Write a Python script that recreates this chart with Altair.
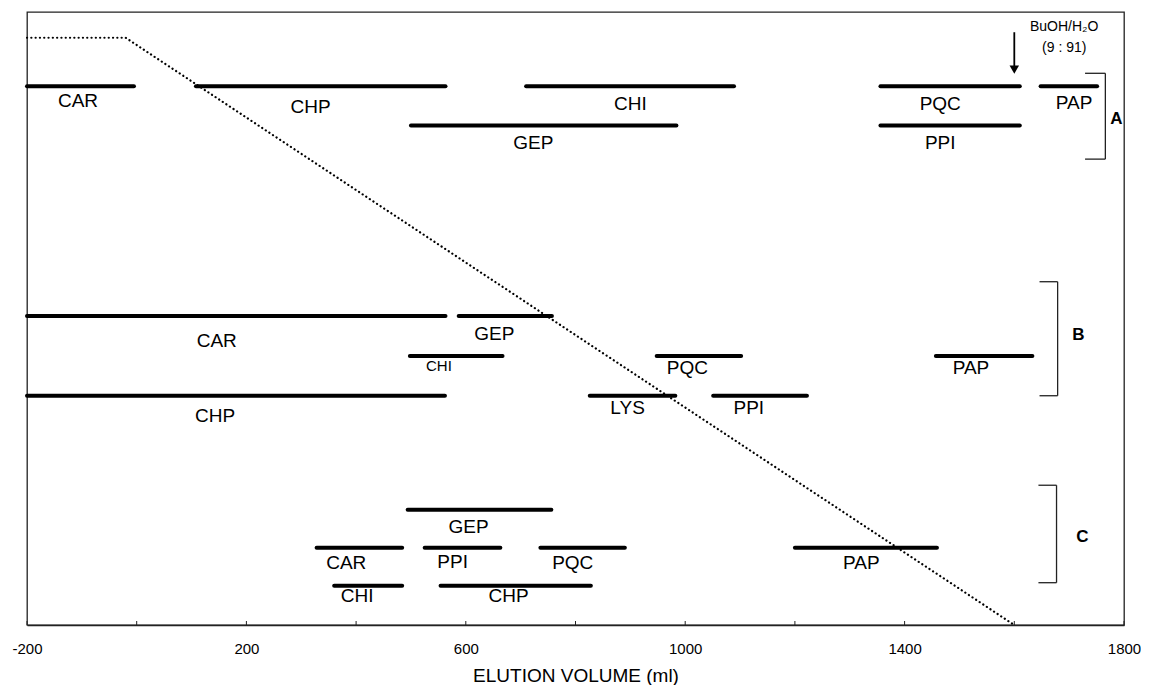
import altair as alt
import pandas as pd

# ---- data (x in ml, y in arbitrary vertical units 0-100) ----
GRAD_X = [-200, -20, 1600]
GRAD_Y = [95.8, 95.8, 0]

ZONE_NAME = ["CAR", "CHP", "CHI", "PQC", "PAP", "GEP", "PPI",
             "CAR", "GEP", "CHI", "PQC", "PAP", "CHP", "LYS", "PPI",
             "GEP", "CAR", "PPI", "PQC", "PAP", "CHI", "CHP"]
ZONE_START = [-200, 108, 710, 1356, 1648, 500, 1356,
              -200, 587, 498, 948, 1457, -200, 826, 1051,
              494, 328, 525, 736, 1200, 360, 554]
ZONE_END = [-5, 563, 1089, 1610, 1751, 984, 1610,
            563, 757, 667, 1102, 1633, 562, 982, 1222,
            756, 484, 663, 890, 1459, 484, 828]
ZONE_LEVEL = [87.9, 87.9, 87.9, 87.9, 87.9, 81.5, 81.5,
              50.4, 50.4, 43.9, 43.9, 43.9, 37.4, 37.4, 37.4,
              18.8, 12.6, 12.6, 12.6, 12.6, 6.4, 6.4]

LABEL_TEXT = ["CAR", "CHP", "CHI", "PQC", "PAP", "GEP", "PPI",
              "CAR", "GEP", "PQC", "PAP", "CHP", "LYS", "PPI",
              "GEP", "CAR", "PPI", "PQC", "PAP", "CHI", "CHP"]
LABEL_X = [-107, 317, 900, 1465, 1709, 723, 1465,
           146, 652, 1004, 1521, 143, 895, 1116,
           605, 382, 576, 795, 1321, 402, 678]
LABEL_Y = [85.5, 84.5, 85.0, 85.0, 85.1, 78.6, 78.6,
           46.3, 47.5, 41.9, 41.9, 34.1, 35.4, 35.4,
           16.0, 10.1, 10.3, 10.1, 10.1, 4.7, 4.7]

SMALL_TEXT = ["CHI"]
SMALL_X = [551]
SMALL_Y = [42.3]

GROUP_NAME = ["A", "B", "C"]
GROUP_X = [1766, 1679, 1677]
GROUP_LEFT = [1729, 1646, 1644]
GROUP_TOP = [90.0, 56.0, 22.8]
GROUP_BOTTOM = [76.0, 37.4, 6.9]
GROUP_LABEL_X = [1786, 1717, 1724]
GROUP_LABEL_Y = [82.5, 47.3, 14.4]

ARROW_X = [1600]
ARROW_TOP = [96.7]
ARROW_TIP = [90.6]
NOTE_TEXT = ["BuOH/H\u2082O", "(9 : 91)"]
NOTE_X = [1691, 1691]
NOTE_Y = [97.6, 94.1]

AXIS_LABELS = [-200, 200, 600, 1000, 1400, 1800]
MINOR_TICKS = [-200, 0, 200, 400, 600, 800, 1000, 1200, 1400, 1600, 1800]

FONT = "Liberation Sans"

xs = alt.Scale(domain=[-200, 1800], nice=False, zero=False)
ys = alt.Scale(domain=[0, 100], nice=False, zero=False)

X = lambda f: alt.X(f, type="quantitative", scale=xs,
                    axis=alt.Axis(values=AXIS_LABELS, ticks=False, grid=False,
                                  title="ELUTION VOLUME (ml)",
                                  labelExpr="'' + datum.value",
                                  labelFlush=False, labelOverlap=False,
                                  domainColor="#222", domainWidth=1.3,
                                  labelFont=FONT, labelFontSize=15,
                                  labelColor="black", labelPadding=16,
                                  titleFont=FONT, titleFontSize=19,
                                  titleFontWeight="normal", titleColor="black",
                                  titlePadding=10))
Y = lambda f: alt.Y(f, type="quantitative", scale=ys, axis=None)

grad = alt.Chart(pd.DataFrame({"x": GRAD_X, "y": GRAD_Y})).mark_line(
    color="black", strokeWidth=2.2, strokeDash=[0.1, 4.2], strokeCap="round"
).encode(x=X("x"), y=Y("y"))

zones = alt.Chart(pd.DataFrame({"name": ZONE_NAME, "s": ZONE_START,
                                "e": ZONE_END, "y": ZONE_LEVEL})).mark_rule(
    color="black", strokeWidth=4, strokeCap="round"
).encode(x=X("s"), x2="e", y=Y("y"))

labels = alt.Chart(pd.DataFrame({"t": LABEL_TEXT, "x": LABEL_X, "y": LABEL_Y})).mark_text(
    font=FONT, fontSize=19, color="black", baseline="middle", align="center"
).encode(x=X("x"), y=Y("y"), text="t")

small = alt.Chart(pd.DataFrame({"t": SMALL_TEXT, "x": SMALL_X, "y": SMALL_Y})).mark_text(
    font=FONT, fontSize=15, color="black", baseline="middle", align="center"
).encode(x=X("x"), y=Y("y"), text="t")

gdf = pd.DataFrame({"g": GROUP_NAME, "x": GROUP_X, "l": GROUP_LEFT,
                    "top": GROUP_TOP, "bot": GROUP_BOTTOM,
                    "lx": GROUP_LABEL_X, "ly": GROUP_LABEL_Y})
br_v = alt.Chart(gdf).mark_rule(color="#222", strokeWidth=1.3).encode(
    x=X("x"), y=Y("top"), y2="bot")
br_t = alt.Chart(gdf).mark_rule(color="#222", strokeWidth=1.3).encode(
    x=X("l"), x2="x", y=Y("top"))
br_b = alt.Chart(gdf).mark_rule(color="#222", strokeWidth=1.3).encode(
    x=X("l"), x2="x", y=Y("bot"))
br_lab = alt.Chart(gdf).mark_text(
    font=FONT, fontSize=17, fontWeight="bold", color="black", baseline="middle"
).encode(x=X("lx"), y=Y("ly"), text="g")

adf = pd.DataFrame({"x": ARROW_X, "top": ARROW_TOP, "tip": ARROW_TIP})
arrow = alt.Chart(adf).mark_rule(color="black", strokeWidth=1.8).encode(
    x=X("x"), y=Y("top"), y2="tip")
head = alt.Chart(adf).mark_point(
    shape="triangle-down", filled=True, color="black", size=90, opacity=1
).encode(x=X("x"), y=Y("tip"))

note = alt.Chart(pd.DataFrame({"t": NOTE_TEXT, "x": NOTE_X, "y": NOTE_Y})).mark_text(
    font=FONT, fontSize=14, color="black", baseline="middle"
).encode(x=X("x"), y=Y("y"), text="t")

ticks = alt.Chart(pd.DataFrame({"x": MINOR_TICKS})).mark_rule(
    color="#222", strokeWidth=1
).encode(x=X("x"), y=alt.value(613), y2=alt.value(609))

chart = alt.layer(grad, zones, labels, small, br_v, br_t, br_b, br_lab,
                  arrow, head, note, ticks).properties(
    width=1097, height=613,
    background="white",
    autosize=alt.AutoSizeParams(type="none"),
    padding={"left": 19, "top": 4, "right": 17, "bottom": 62},
).configure_view(
    stroke="#222", strokeWidth=1.3
)

chart.save("out.html", embed_options={"renderer": "svg", "actions": False})
